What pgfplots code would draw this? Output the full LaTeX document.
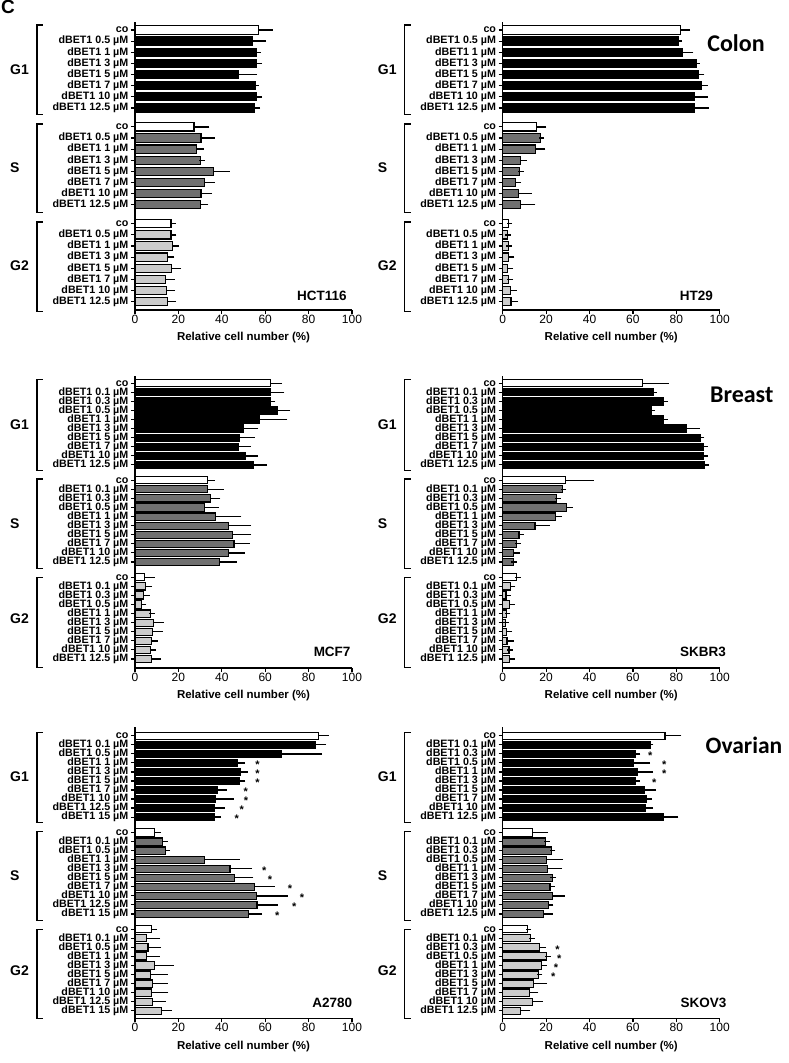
\documentclass[border=0pt]{standalone}
\usepackage{pgfplots}
\pgfplotsset{compat=1.18}
\usepackage{fontspec}
\setmainfont{Liberation Sans}
\newfontfamily\carlito{Carlito}
\definecolor{sgray}{RGB}{112,112,112}
\definecolor{lgray}{RGB}{204,204,204}
\newcommand\tickfnt{\fontsize{10.7}{10.7}\selectfont\bfseries}
\pgfplotsset{
  panel/.style={scale only axis, width=217pt, xmin=0, xmax=100, xtick={0,20,40,60,80,100},
    axis x line*=bottom, axis y line*=left,
    axis line style={line width=1.2pt,-},
    tick style={line width=1.2pt, black}, major tick length=4pt, tick align=outside,
    clip=false,
    /pgf/number format/assume math mode=true,
    xticklabel style={font=\fontsize{12}{12}\selectfont, inner sep=1pt},
    yticklabel style={font=\tickfnt, inner sep=0pt, xshift=-2.5pt},
    xlabel={Relative cell number (\%)},
    xlabel style={font=\fontsize{11.5}{11.5}\selectfont\bfseries, at={(axis description cs:0.5,0)}, anchor=center, yshift=-28pt},
  },
  bars/.style={xbar, bar width=#1, bar shift=0pt, draw=black, line width=1.1pt,
    error bars/x dir=plus, error bars/x explicit,
    error bars/error bar style={line width=1.4pt, black},
    error bars/error mark options={line width=1.4pt, black, mark size=2.8pt}},
  cobar/.style={bars=#1, fill=white},
  gabar/.style={bars=#1, fill=black},
  sbar/.style={bars=#1, fill=sgray},
  gbbar/.style={bars=#1, fill=lgray},
  stars/.style={draw=none, mark=none, nodes near coords={*},
    every node near coord/.style={anchor=center, font=\fontsize{11}{11}\selectfont\bfseries, yshift=-2pt, inner sep=0pt}},
  topgeom/.style={height=288pt, ymin=-25.15, ymax=0.72,
    ytick={0,-1,-2,-3,-4,-5,-6,-7,-8.7,-9.7,-10.7,-11.7,-12.7,-13.7,-14.7,-15.7,-17.4,-18.4,-19.4,-20.4,-21.4,-22.4,-23.4,-24.4},
    yticklabels={co,dBET1 0.5 µM,dBET1 1 µM,dBET1 3 µM,dBET1 5 µM,dBET1 7 µM,dBET1 10 µM,dBET1 12.5 µM,
                 co,dBET1 0.5 µM,dBET1 1 µM,dBET1 3 µM,dBET1 5 µM,dBET1 7 µM,dBET1 10 µM,dBET1 12.5 µM,
                 co,dBET1 0.5 µM,dBET1 1 µM,dBET1 3 µM,dBET1 5 µM,dBET1 7 µM,dBET1 10 µM,dBET1 12.5 µM}},
  tenticks/.style={ytick={0,-1,-2,-3,-4,-5,-6,-7,-8,-9,-10.7,-11.7,-12.7,-13.7,-14.7,-15.7,-16.7,-17.7,-18.7,-19.7,-21.4,-22.4,-23.4,-24.4,-25.4,-26.4,-27.4,-28.4,-29.4,-30.4}},
  labA/.style={yticklabels={co,dBET1 0.1 µM,dBET1 0.3 µM,dBET1 0.5 µM,dBET1 1 µM,dBET1 3 µM,dBET1 5 µM,dBET1 7 µM,dBET1 10 µM,dBET1 12.5 µM,
                            co,dBET1 0.1 µM,dBET1 0.3 µM,dBET1 0.5 µM,dBET1 1 µM,dBET1 3 µM,dBET1 5 µM,dBET1 7 µM,dBET1 10 µM,dBET1 12.5 µM,
                            co,dBET1 0.1 µM,dBET1 0.3 µM,dBET1 0.5 µM,dBET1 1 µM,dBET1 3 µM,dBET1 5 µM,dBET1 7 µM,dBET1 10 µM,dBET1 12.5 µM}},
  labB/.style={yticklabels={co,dBET1 0.1 µM,dBET1 0.5 µM,dBET1 1 µM,dBET1 3 µM,dBET1 5 µM,dBET1 7 µM,dBET1 10 µM,dBET1 12.5 µM,dBET1 15 µM,
                            co,dBET1 0.1 µM,dBET1 0.5 µM,dBET1 1 µM,dBET1 3 µM,dBET1 5 µM,dBET1 7 µM,dBET1 10 µM,dBET1 12.5 µM,dBET1 15 µM,
                            co,dBET1 0.1 µM,dBET1 0.5 µM,dBET1 1 µM,dBET1 3 µM,dBET1 5 µM,dBET1 7 µM,dBET1 10 µM,dBET1 12.5 µM,dBET1 15 µM}},
  midgeom/.style={height=292pt, ymin=-31.4, ymax=0.8, tenticks},
  botgeom/.style={height=291pt, ymin=-31.24, ymax=0.93, tenticks},
}
\newcommand\brk[4]{%
  \draw[line width=1.2pt] (axis cs:-42.4,#1) -- (axis cs:-45.2,#1) -- (axis cs:-45.2,#2) -- (axis cs:-42.4,#2);
  \node[anchor=west, font=\fontsize{14}{14}\selectfont\bfseries, inner sep=0pt] at (axis cs:-57.6,#3) {#4};}
\newcommand\topbrk{\brk{0.45}{-7.6}{-3.55}{G1}\brk{-8.45}{-16.4}{-12.4}{S}\brk{-17.25}{-25.3}{-21.2}{G2}}
\newcommand\tenbrk{\brk{0.4}{-9.6}{-4.55}{G1}\brk{-10.55}{-20.45}{-15.5}{S}\brk{-21.4}{-31.3}{-26}{G2}}
\newcommand\pname[3]{\node[anchor=east, font=\fontsize{13.5}{13.5}\selectfont\bfseries, inner sep=0pt] at (axis cs:#1,#2) {#3};}

\begin{document}
\begin{tikzpicture}
\useasboundingbox (0pt,0pt) rectangle (789pt,-1063pt);
\node[anchor=north west, inner sep=0pt, font=\fontsize{19}{19}\selectfont\bfseries] at (1pt,-0.5pt) {C};
\node[font=\fontsize{24}{24}\selectfont\carlito\bfseries] at (736pt,-42.7pt) {Colon};
\node[font=\fontsize{24}{24}\selectfont\carlito\bfseries] at (741.7pt,-395pt) {Breast};
\node[font=\fontsize{23.5}{23.5}\selectfont\carlito\bfseries] at (744pt,-745pt) {Ovarian};

% ---------------- HCT116
\begin{axis}[panel, topgeom, at={(135pt,-310pt)}, anchor=south west]
\addplot[cobar=0.74] coordinates {(56.8,0) +- (5.4,0) (27.2,-8.7) +- (5.8,0) (16.6,-17.4) +- (0.9,0)};
\addplot[gabar=0.74] coordinates {(54.1,-1) +- (5.0,0) (55.8,-2) +- (0.8,0) (55.8,-3) +- (1.5,0) (47.9,-4) +- (7.1,0) (55.3,-5) +- (0.5,0) (56.1,-6) +- (1.2,0) (55.0,-7) +- (1.4,0)};
\addplot[sbar=0.74] coordinates {(30.4,-9.7) +- (5.1,0) (28.4,-10.7) +- (2.0,0) (30.3,-11.7) +- (0.5,0) (36.3,-12.7) +- (6.0,0) (31.9,-13.7) +- (3.5,0) (30.4,-14.7) +- (3.8,0) (30.0,-15.7) +- (2.5,0)};
\addplot[gbbar=0.74] coordinates {(16.6,-18.4) +- (1.2,0) (17.2,-19.4) +- (1.8,0) (15.1,-20.4) +- (1.7,0) (16.9,-21.4) +- (3.1,0) (14.1,-22.4) +- (2.9,0) (14.4,-23.4) +- (2.8,0) (15.1,-24.4) +- (2.6,0)};
\topbrk
\pname{97.6}{-23.9}{HCT116}
\end{axis}

% ---------------- HT29
\begin{axis}[panel, topgeom, at={(502.7pt,-310pt)}, anchor=south west]
\addplot[cobar=0.74] coordinates {(82.0,0) +- (3.1,0) (15.4,-8.7) +- (3.4,0) (2.6,-17.4) +- (0.5,0)};
\addplot[gabar=0.74] coordinates {(81.1,-1) +- (0.3,0) (82.9,-2) +- (3.7,0) (89.1,-3) +- (0.3,0) (90.3,-4) +- (1.4,0) (91.6,-5) +- (1.7,0) (88.2,-6) +- (5.0,0) (88.5,-7) +- (5.2,0)};
\addplot[sbar=0.74] coordinates {(17.5,-9.7) +- (0.3,0) (15.2,-10.7) +- (3.2,0) (8.4,-11.7) +- (1.4,0) (7.7,-12.7) +- (0.6,0) (5.7,-13.7) +- (1.5,0) (7.4,-14.7) +- (4.6,0) (8.0,-15.7) +- (5.8,0)};
\addplot[gbbar=0.74] coordinates {(2.2,-18.4) +- (0.3,0) (2.5,-19.4) +- (0.3,0) (2.6,-20.4) +- (1.5,0) (2.2,-21.4) +- (1.3,0) (2.6,-22.4) +- (0.9,0) (3.4,-23.4) +- (1.8,0) (3.8,-24.4) +- (2.0,0)};
\topbrk
\pname{97}{-23.9}{HT29}
\end{axis}

% ---------------- MCF7
\begin{axis}[panel, midgeom, labA, at={(135pt,-668pt)}, anchor=south west]
\addplot[cobar=0.79] coordinates {(62.5,0) +- (4.0,0) (33.3,-10.7) +- (2.2,0) (4.5,-21.4) +- (3.4,0)};
\addplot[gabar=0.79] coordinates {(62.5,-1) +- (5.1,0) (62.2,-2) +- (1.2,0) (65.7,-3) +- (4.5,0) (57.5,-4) +- (11.4,0) (49.8,-5) +- (5.8,0) (48.2,-6) +- (5.7,0) (47.9,-7) +- (4.2,0) (51.0,-8) +- (4.5,0) (54.5,-9) +- (5.1,0)};
\addplot[sbar=0.79] coordinates {(33.6,-11.7) +- (6.1,0) (34.9,-12.7) +- (3.1,0) (32.0,-13.7) +- (5.4,0) (36.9,-14.7) +- (10.8,0) (43.0,-15.7) +- (9.2,0) (44.9,-16.7) +- (7.3,0) (45.6,-17.7) +- (6.1,0) (43.2,-18.7) +- (6.1,0) (38.9,-19.7) +- (6.8,0)};
\addplot[gbbar=0.79] coordinates {(4.9,-22.4) +- (1.7,0) (4.1,-23.4) +- (1.4,0) (3.2,-24.4) +- (0.8,0) (7.2,-25.4) +- (0.5,0) (8.4,-26.4) +- (3.5,0) (8.1,-27.4) +- (3.4,0) (7.5,-28.4) +- (1.8,0) (7.1,-29.4) +- (1.4,0) (7.5,-30.4) +- (3.2,0)};
\tenbrk
\pname{99.4}{-29.6}{MCF7}
\end{axis}

% ---------------- SKBR3
\begin{axis}[panel, midgeom, labA, at={(502.7pt,-668pt)}, anchor=south west]
\addplot[cobar=0.79] coordinates {(64.4,0) +- (10.9,0) (29.0,-10.7) +- (11.7,0) (6.5,-21.4) +- (0.5,0)};
\addplot[gabar=0.79] coordinates {(69.3,-1) +- (0.3,0) (74.3,-2) +- (0.6,0) (68.4,-3) +- (0.5,0) (74.3,-4) +- (0.6,0) (84.5,-5) +- (4.9,0) (91.2,-6) +- (0.5,0) (92.5,-7) +- (0.8,0) (92.5,-8) +- (0.6,0) (92.8,-9) +- (1.0,0)};
\addplot[sbar=0.79] coordinates {(27.5,-11.7) +- (0.6,0) (24.6,-12.7) +- (0.8,0) (29.5,-13.7) +- (1.4,0) (24.4,-14.7) +- (1.7,0) (14.9,-15.7) +- (5.4,0) (7.5,-16.7) +- (0.9,0) (6.5,-17.7) +- (0.6,0) (5.1,-18.7) +- (1.4,0) (4.9,-19.7) +- (0.3,0)};
\addplot[gbbar=0.79] coordinates {(3.4,-22.4) +- (1.1,0) (1.5,-23.4) +- (0.9,0) (3.1,-24.4) +- (1.2,0) (1.8,-25.4) +- (0.5,0) (1.2,-26.4) +- (0.3,0) (1.8,-27.4) +- (1.2,0) (2.0,-28.4) +- (1.7,0) (2.9,-29.4) +- (0.5,0) (3.1,-30.4) +- (1.2,0)};
\tenbrk
\pname{102.9}{-29.6}{SKBR3}
\end{axis}

% ---------------- A2780
\begin{axis}[panel, botgeom, labB, at={(135pt,-1018.3pt)}, anchor=south west]
\addplot[cobar=0.79] coordinates {(84.5,0) +- (3.4,0) (8.9,-10.7) +- (1.9,0) (7.7,-21.4) +- (1.2,0)};
\addplot[gabar=0.79] coordinates {(83.1,-1) +- (3.7,0) (67.3,-2) +- (17.6,0) (47.0,-3) +- (2.5,0) (48.4,-4) +- (2.3,0) (48.1,-5) +- (1.5,0) (38.1,-6) +- (2.9,0) (37.3,-7) +- (6.9,0) (36.6,-8) +- (3.4,0) (36.6,-9) +- (1.8,0)};
\addplot[sbar=0.79] coordinates {(12.6,-11.7) +- (1.2,0) (14.1,-12.7) +- (0.8,0) (32.0,-13.7) +- (14.9,0) (43.8,-14.7) +- (8.9,0) (45.8,-15.7) +- (7.5,0) (55.0,-16.7) +- (8.0,0) (55.8,-17.7) +- (13.4,0) (56.2,-18.7) +- (8.3,0) (52.2,-19.7) +- (5.1,0)};
\addplot[gbbar=0.79] coordinates {(5.4,-22.4) +- (4.9,0) (6.0,-23.4) +- (4.8,0) (5.2,-24.4) +- (4.8,0) (8.8,-25.4) +- (7.7,0) (7.1,-26.4) +- (6.8,0) (8.1,-27.4) +- (5.8,0) (7.7,-28.4) +- (6.4,0) (8.0,-29.4) +- (4.8,0) (12.3,-30.4) +- (3.5,0)};
\addplot[stars] coordinates {(56.5,-3) (56.5,-4) (56.5,-5) (51,-6) (51.2,-7) (49.2,-8) (46.9,-9) (59.6,-14.7) (62.2,-15.7) (71.4,-16.7) (77,-17.7) (73.4,-18.7) (65.6,-19.7)};
\tenbrk
\pname{100.2}{-29.5}{A2780}
\end{axis}

% ---------------- SKOV3
\begin{axis}[panel, botgeom, labA, at={(502.7pt,-1018.3pt)}, anchor=south west]
\addplot[cobar=0.79] coordinates {(74.8,0) +- (6.2,0) (13.8,-10.7) +- (5.8,0) (11.5,-21.4) +- (0.3,0)};
\addplot[gabar=0.79] coordinates {(67.9,-1) +- (0.3,0) (61.1,-2) +- (1.1,0) (60.2,-3) +- (6.5,0) (62.2,-4) +- (5.8,0) (61.4,-5) +- (0.5,0) (65.3,-6) +- (4.1,0) (66.1,-7) +- (1.4,0) (65.6,-8) +- (2.4,0) (74.0,-9) +- (5.7,0)};
\addplot[sbar=0.79] coordinates {(19.7,-11.7) +- (0.6,0) (22.4,-12.7) +- (0.6,0) (20.3,-13.7) +- (6.3,0) (20.6,-14.7) +- (5.5,0) (23.0,-15.7) +- (0.3,0) (21.8,-16.7) +- (0.8,0) (23.0,-17.7) +- (4.3,0) (21.0,-18.7) +- (1.1,0) (19.0,-19.7) +- (2.8,0)};
\addplot[gbbar=0.79] coordinates {(12.9,-22.4) +- (0.5,0) (16.9,-23.4) +- (1.8,0) (20.1,-24.4) +- (0.8,0) (17.7,-25.4) +- (1.4,0) (16.4,-26.4) +- (0.6,0) (14.1,-27.4) +- (5.1,0) (12.3,-28.4) +- (2.8,0) (13.8,-29.4) +- (3.4,0) (8.0,-30.4) +- (3.5,0)};
\addplot[stars] coordinates {(68,-2) (74.5,-3) (74.5,-4) (69.9,-5) (25.3,-23.4) (26.1,-24.4) (24.6,-25.4) (23.3,-26.4)};
\tenbrk
\pname{103.2}{-29.5}{SKOV3}
\end{axis}
\end{tikzpicture}
\end{document}
